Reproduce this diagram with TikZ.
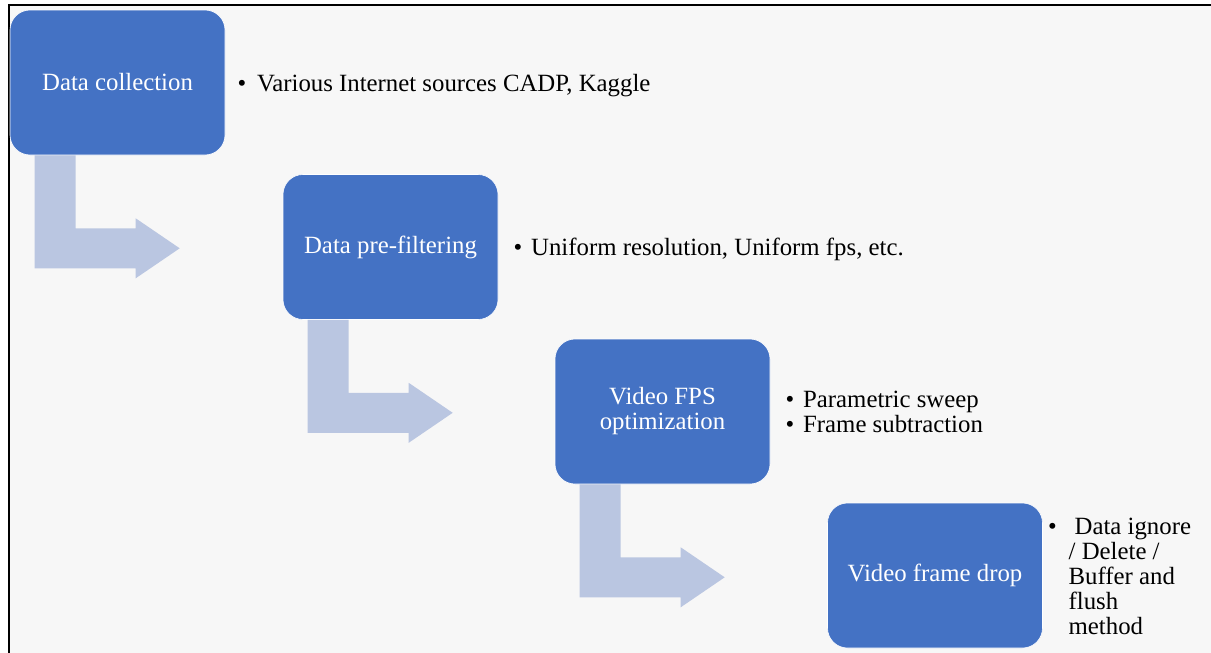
\documentclass[tikz,border=0pt]{standalone}
\usepackage{fontspec}
\setmainfont{Liberation Serif}
\usetikzlibrary{calc}
\definecolor{boxblue}{HTML}{4472C4}
\definecolor{arrowblue}{HTML}{BAC6E1}
\definecolor{bggrey}{HTML}{F7F7F7}
\tikzset{
  stepbox/.style={draw=white, line width=0.6pt, fill=boxblue, rounded corners=20pt,
    minimum width=215pt, minimum height=145pt, inner sep=0pt, align=center,
    text=white, font=\fontsize{24.8}{25}\selectfont},
  listtext/.style={anchor=west, inner sep=0pt, text=black, yshift=-3.5pt,
    font=\fontsize{24.8}{25}\selectfont},
  bentarrow/.style={fill=arrowblue, draw=none}
}
\newcommand{\bentarrowfrom}[1]{%
  \fill[arrowblue]
    ($(#1.south west)+(25,0)$) -- ($(#1.south west)+(25,113)$) --
    ($(#1.south west)+(126,113)$) -- ($(#1.south west)+(126,123)$) --
    ($(#1.south west)+(170,93)$) -- ($(#1.south west)+(126,63)$) --
    ($(#1.south west)+(126,73)$) -- ($(#1.south west)+(66,73)$) --
    ($(#1.south west)+(66,0)$) -- cycle;}
\begin{document}
\begin{tikzpicture}[x=1pt,y=-1pt]
  \useasboundingbox (0,0) rectangle (1211,653);
  \fill[white] (0,0) rectangle (1211,653);
  \fill[bggrey] (9,5) rectangle (1211,653);
  \draw[black, line width=2.2pt] (9,653) -- (9,5) -- (1211,5);

  \node[stepbox] (b1) at (117.5,82.5) {Data collection};
  \node[stepbox] (b2) at (390.5,247) {Data pre-filtering};
  \node[stepbox] (b3) at (662.5,411.5) {Video FPS\\optimization};
  \node[stepbox] (b4) at (935,575.5) {Video frame drop};

  \bentarrowfrom{b1}
  \bentarrowfrom{b2}
  \bentarrowfrom{b3}

  \node[listtext] (l1) at ($(b1.east)+(12,0)$)
    {\begin{tabular}{@{}l@{\hspace{11pt}}l@{}}\textbullet & Various Internet sources CADP, Kaggle\end{tabular}};
  \node[listtext] (l2) at ($(b2.east)+(15,0)$)
    {\begin{tabular}{@{}l@{\hspace{9pt}}l@{}}\textbullet & Uniform resolution, Uniform fps, etc.\end{tabular}};
  \node[listtext] (l3) at ($(b3.east)+(15,0)$)
    {\begin{tabular}{@{}l@{\hspace{9pt}}l@{}}\textbullet & Parametric sweep\\ \textbullet & Frame subtraction\end{tabular}};
  \node[listtext] (l4) at ($(b4.east)+(5,0)$)
    {\begin{tabular}{@{}l@{\hspace{12pt}}l@{}}\textbullet & \hspace{6pt}Data ignore\\ & / Delete /\\ & Buffer and\\ & flush\\ & method\end{tabular}};
\end{tikzpicture}
\end{document}
